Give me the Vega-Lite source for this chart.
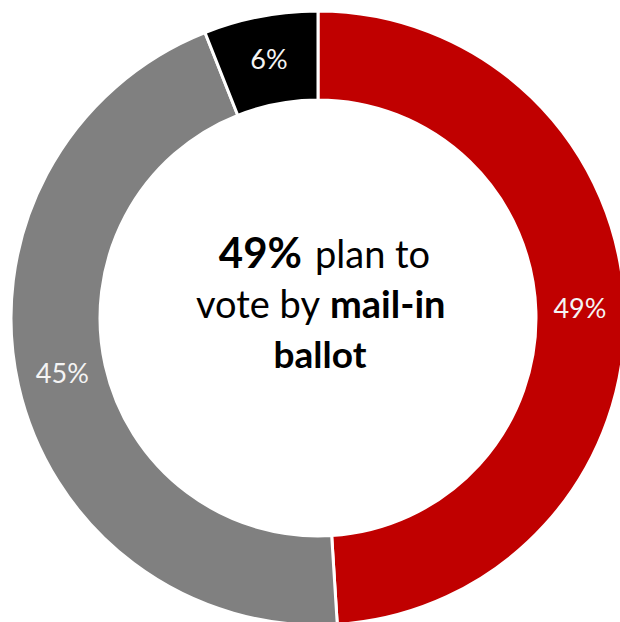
{
  "$schema": "https://vega.github.io/schema/vega-lite/v6.json",
  "width": 604,
  "height": 608,
  "autosize": "none",
  "padding": {"left": 16, "top": 14, "right": 0, "bottom": 0},
  "background": "white",
  "config": {"view": {"stroke": null}},
  "layer": [
    {
      "data": {"values": [
        {"category": "Mail-in ballot", "value": 49, "order": 1, "label": "49%"},
        {"category": "In person", "value": 45, "order": 2, "label": "45%"},
        {"category": "Other", "value": 6, "order": 3, "label": "6%"}
      ]},
      "layer": [
        {
          "mark": {"type": "arc", "innerRadius": 218, "outerRadius": 307, "stroke": "white", "strokeWidth": 3},
          "encoding": {
            "theta": {"field": "value", "type": "quantitative", "stack": true},
            "order": {"field": "order", "type": "quantitative"},
            "color": {"field": "category", "type": "nominal", "legend": null,
              "scale": {"domain": ["Mail-in ballot", "In person", "Other"], "range": ["#C00000", "#808080", "#000000"]}}
          }
        },
        {
          "mark": {"type": "text", "radius": 262, "font": "Lato", "fontSize": 27, "color": "#F4F4F4", "baseline": "middle", "align": "center"},
          "encoding": {
            "theta": {"field": "value", "type": "quantitative", "stack": true},
            "order": {"field": "order", "type": "quantitative"},
            "text": {"field": "label", "type": "nominal"}
          }
        }
      ]
    },
    {
      "data": {"values": [{"t": "49%"}]},
      "mark": {"type": "text", "font": "Lato", "fontWeight": "bold", "fontSize": 42, "align": "right", "baseline": "alphabetic", "dx": -16, "dy": -50, "color": "black"},
      "encoding": {"text": {"field": "t", "type": "nominal"}}
    },
    {
      "data": {"values": [{"t": "plan to"}]},
      "mark": {"type": "text", "font": "Lato", "fontSize": 38, "align": "left", "baseline": "alphabetic", "dx": -3, "dy": -50, "color": "black"},
      "encoding": {"text": {"field": "t", "type": "nominal"}}
    },
    {
      "data": {"values": [{"t": "vote by"}]},
      "mark": {"type": "text", "font": "Lato", "fontSize": 38, "align": "right", "baseline": "alphabetic", "dx": 2, "dy": 0, "color": "black"},
      "encoding": {"text": {"field": "t", "type": "nominal"}}
    },
    {
      "data": {"values": [{"t": "mail-in"}]},
      "mark": {"type": "text", "font": "Lato", "fontWeight": "bold", "fontSize": 38, "align": "left", "baseline": "alphabetic", "dx": 12, "dy": 0, "color": "black"},
      "encoding": {"text": {"field": "t", "type": "nominal"}}
    },
    {
      "data": {"values": [{"t": "ballot"}]},
      "mark": {"type": "text", "font": "Lato", "fontWeight": "bold", "fontSize": 37, "align": "center", "baseline": "alphabetic", "dx": 2, "dy": 50, "color": "black"},
      "encoding": {"text": {"field": "t", "type": "nominal"}}
    }
  ]
}
